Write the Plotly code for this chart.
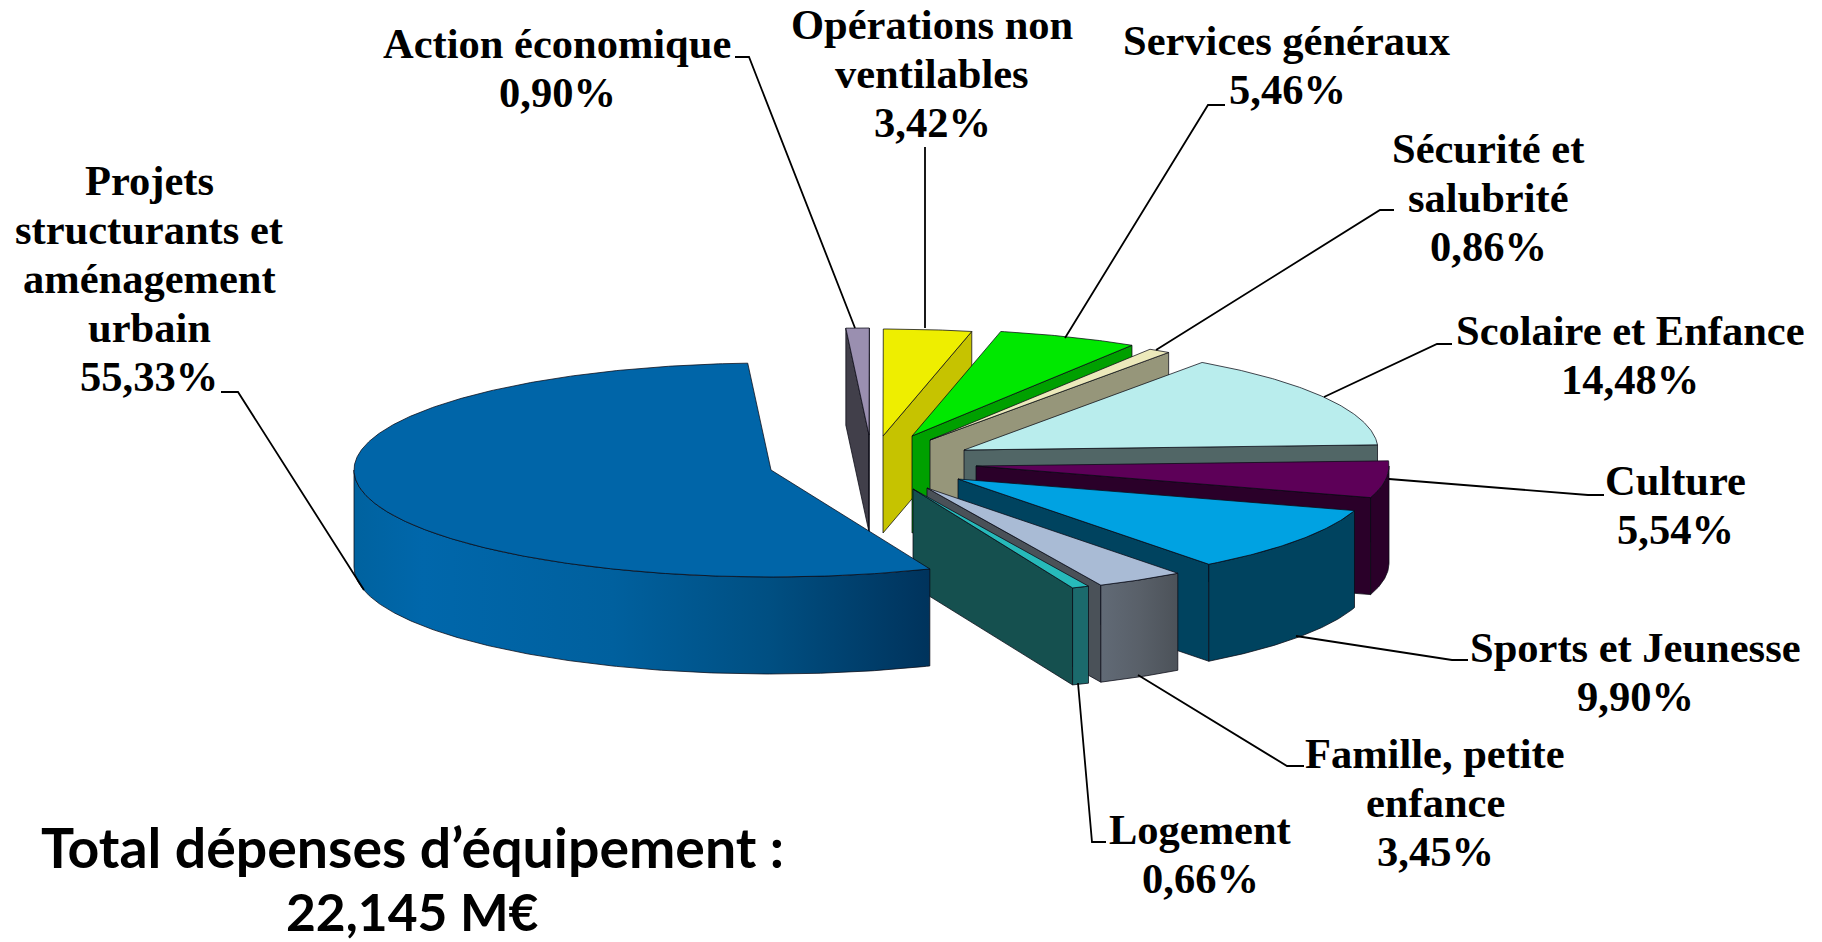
import math
import plotly.graph_objects as go

# ---------- data ----------
categories = ["Action économique", "Opérations non ventilables", "Services généraux",
              "Sécurité et salubrité", "Scolaire et Enfance", "Culture", "Sports et Jeunesse",
              "Famille, petite enfance", "Logement", "Projets structurants et aménagement urbain"]
shares = [0.90, 3.42, 5.46, 0.86, 14.48, 5.54, 9.90, 3.45, 0.66, 55.33]
share_labels = ["0,90%", "3,42%", "5,46%", "0,86%", "14,48%", "5,54%", "9,90%", "3,45%", "0,66%", "55,33%"]
total_title = ["Total dépenses d’équipement :", "22,145 M€"]

# ---------- pie geometry (style, not data) ----------
W, H = 1822, 942
RY, DEPTH = 107, 97
rx_list = [415, 415, 415, 415, 414, 413, 415, 415, 419, 417]
FIRST_ANGLE = -3.2
apex = [(869, 435), (883, 436), (912, 436), (930, 440), (964, 450),
        (976, 466), (958, 479), (927, 488), (913, 489), (771, 470)]
top_col = ["#9a8fb0", "#eeee00", "#00e800", "#ece9bb", "#b9eded",
           "#5d0058", "#00a2e2", "#a9bbd5", "#27baba", "#0065a8"]
face_col = ["#413f4a", "#c6c300", "#00a000", "#96967a", "#516666",
            "#2a0029", "#00435f", "#4a5158", "#15504f", "#004a7a"]
rim_col = [None, None, None, None, None, "#2a0029", "#00435f",
           [[0, "#616a76"], [0.5, "#596069"], [1, "#4c5259"]], "#1b6a6c",
           [[0, "#00629f"], [0.12, "#0067ab"], [0.45, "#00609e"], [0.72, "#004f82"], [1, "#00335c"]]]

label_wrapped = [["Action économique"], ["Opérations non", "ventilables"], ["Services généraux"],
                 ["Sécurité et", "salubrité"], ["Scolaire et Enfance"], ["Culture"], ["Sports et Jeunesse"],
                 ["Famille, petite", "enfance"], ["Logement"],
                 ["Projets", "structurants et", "aménagement", "urbain"]]
label_pos = [(557, 68), (932, 73), (1287, 65), (1488, 197), (1630, 355),
             (1675, 505), (1635, 672), (1435, 802), (1200, 854), (149, 278)]
leaders = [[(735, 57), (749, 57), (855, 328)],
           [(925, 147), (925, 328)],
           [(1225, 105), (1208, 105), (1065, 338)],
           [(1394, 210), (1380, 210), (1156, 350)],
           [(1452, 344), (1437, 344), (1324, 397)],
           [(1604, 495), (1588, 495), (1389, 479)],
           [(1468, 660), (1452, 660), (1296, 636)],
           [(1304, 766), (1287, 766), (1138, 675)],
           [(1106, 842), (1092, 842), (1078, 683)],
           [(221, 392), (238, 392), (364, 590)]]
EDGE = "rgba(10,10,20,0.75)"
SERIF = "Liberation Serif, Times New Roman, serif"
LABEL_SIZE = 42.5
LINE_GAP = 49

fig = go.Figure()


def poly(xs, ys, fill, width=1.0):
    kw = dict(x=xs, y=ys, mode="lines", fill="toself", hoverinfo="skip", showlegend=False,
              line=dict(color=EDGE, width=width))
    if isinstance(fill, str):
        kw["fillcolor"] = fill
    else:
        kw["fillgradient"] = dict(type="horizontal", colorscale=fill)
    fig.add_trace(go.Scatter(**kw))


def pt(c, rx, deg):
    t = math.radians(deg)
    return c[0] + rx * math.sin(t), c[1] - RY * math.cos(t)


def arc(c, rx, a, b):
    n = max(2, int(abs(b - a)) * 2)
    return [pt(c, rx, a + (b - a) * i / n) for i in range(n + 1)]


def face(c, rx, deg, col):
    x, y = pt(c, rx, deg)
    poly([c[0], x, x, c[0], c[0]], [c[1], y, y + DEPTH, c[1] + DEPTH, c[1]], col)


def rim(c, rx, a, b, col):
    pts = arc(c, rx, a, b)
    xs = [p[0] for p in pts] + [p[0] for p in reversed(pts)]
    ys = [p[1] for p in pts] + [p[1] + DEPTH for p in reversed(pts)]
    poly(xs + xs[:1], ys + ys[:1], col)


start = FIRST_ANGLE
for i, share in enumerate(shares):
    a1, a2 = start, start + share * 3.6
    start = a2
    c, rx = apex[i], rx_list[i]
    if 180 < (a1 % 360) < 360:
        face(c, rx, a1, face_col[i])
    if 0 < (a2 % 360) < 180:
        face(c, rx, a2, face_col[i])
    lo, hi = max(a1, 90), min(a2, 270)
    if hi > lo:
        rim(c, rx, lo, hi, rim_col[i] or face_col[i])
    pts = arc(c, rx, a1, a2)
    poly([c[0]] + [p[0] for p in pts] + [c[0]], [c[1]] + [p[1] for p in pts] + [c[1]], top_col[i])

for seg in leaders:
    fig.add_trace(go.Scatter(x=[p[0] for p in seg], y=[p[1] for p in seg], mode="lines",
                             hoverinfo="skip", showlegend=False,
                             line=dict(color="#000000", width=1.8)))

for name, pct, (x, y) in zip(label_wrapped, share_labels, label_pos):
    rows = name + [pct]
    top = y - LINE_GAP * (len(rows) - 1) / 2
    for k, row in enumerate(rows):
        fig.add_annotation(x=x, y=top + k * LINE_GAP, xref="x", yref="y", showarrow=False,
                           xanchor="center", yanchor="middle", text=f"<b>{row}</b>",
                           font=dict(family=SERIF, size=LABEL_SIZE, color="#000000"))

for txt, y, size in zip(total_title, (846, 911), (55.4, 51.5)):
    fig.add_annotation(x=412, y=y, xref="x", yref="y", showarrow=False, xanchor="center",
                       yanchor="middle", text=f"<b>{txt}</b>",
                       font=dict(family="Lato, Open Sans, sans-serif", size=size, color="#000000"))

fig.update_layout(width=W, height=H, margin=dict(l=0, r=0, t=0, b=0),
                  paper_bgcolor="white", plot_bgcolor="white", showlegend=False,
                  xaxis=dict(range=[0, W], visible=False, fixedrange=True),
                  yaxis=dict(range=[H, 0], visible=False, fixedrange=True))
fig.write_html("out.html", config={"displayModeBar": False},
               post_script="document.body.style.margin='0';document.body.style.overflow='hidden';")
